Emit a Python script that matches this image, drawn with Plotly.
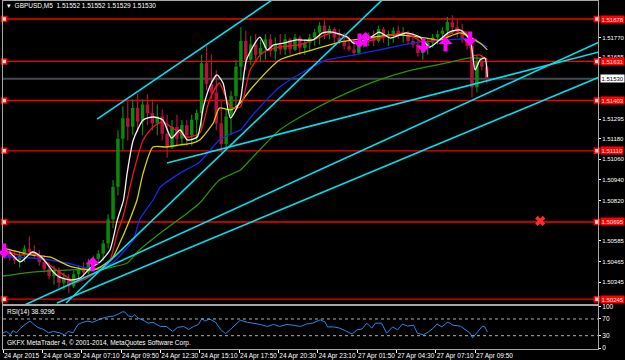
import plotly.graph_objects as go

# ---------------- data ----------------
bars_per_candle = 4
candle_open = [1.5053,1.5051,1.5049,1.5047,1.5050,1.5054,1.5052,1.5050,1.5046,1.5042,
               1.5038,1.5041,1.5034,1.5037,1.5032,1.5039,1.5042,1.5040,1.5046,1.5048,
               1.5051,1.5057,1.5071,1.5090,1.5118,1.5130,1.5125,1.5136,1.5128,1.5138,
               1.5133,1.5127,1.5131,1.5121,1.5113,1.5125,1.5118,1.5126,1.5120,1.5129,
               1.5133,1.5162,1.5150,1.5145,1.5127,1.5115,1.5131,1.5143,1.5160,1.5175,
               1.5164,1.5173,1.5167,1.5171,1.5176,1.5169,1.5173,1.5170,1.5176,1.5170,
               1.5177,1.5171,1.5174,1.5177,1.5180,1.5184,1.5179,1.5182,1.5177,1.5175,
               1.5172,1.5170,1.5168,1.5174,1.5176,1.5178,1.5175,1.5182,1.5177,1.5179,
               1.5181,1.5178,1.5180,1.5175,1.5173,1.5168,1.5171,1.5174,1.5177,1.5179,
               1.5181,1.5186,1.5183,1.5180,1.5176,1.5172,1.5148,1.5163,1.5160]
candle_high = [1.5056,1.5054,1.5053,1.5052,1.5056,1.5061,1.5056,1.5053,1.5050,1.5046,
               1.5044,1.5043,1.5040,1.5039,1.5041,1.5044,1.5046,1.5048,1.5050,1.5053,
               1.5059,1.5074,1.5094,1.5123,1.5137,1.5141,1.5141,1.5144,1.5141,1.5144,
               1.5141,1.5138,1.5135,1.5132,1.5129,1.5132,1.5129,1.5129,1.5132,1.5135,
               1.5167,1.5172,1.5167,1.5158,1.5141,1.5135,1.5146,1.5164,1.5183,1.5181,
               1.5178,1.5179,1.5176,1.5179,1.5179,1.5177,1.5179,1.5179,1.5177,1.5179,
               1.5178,1.5176,1.5179,1.5182,1.5186,1.5187,1.5184,1.5183,1.5182,1.5180,
               1.5178,1.5175,1.5177,1.5178,1.5180,1.5181,1.5184,1.5183,1.5181,1.5183,
               1.5184,1.5183,1.5181,1.5180,1.5178,1.5174,1.5176,1.5179,1.5181,1.5183,
               1.5189,1.5190,1.5188,1.5185,1.5181,1.5174,1.5167,1.5167,1.5164]
candle_low = [1.5048,1.5047,1.5045,1.5043,1.5046,1.5050,1.5048,1.5044,1.5040,1.5036,
              1.5033,1.5031,1.5030,1.5028,1.5031,1.5035,1.5037,1.5039,1.5042,1.5045,
              1.5047,1.5054,1.5066,1.5085,1.5111,1.5117,1.5120,1.5122,1.5120,1.5126,
              1.5123,1.5120,1.5117,1.5107,1.5112,1.5114,1.5115,1.5114,1.5114,1.5117,
              1.5123,1.5146,1.5141,1.5123,1.5110,1.5112,1.5120,1.5135,1.5152,1.5158,
              1.5161,1.5164,1.5163,1.5164,1.5166,1.5164,1.5167,1.5167,1.5167,1.5169,
              1.5167,1.5167,1.5169,1.5172,1.5173,1.5176,1.5176,1.5174,1.5173,1.5170,
              1.5169,1.5166,1.5167,1.5171,1.5172,1.5172,1.5174,1.5174,1.5172,1.5174,
              1.5176,1.5174,1.5173,1.5171,1.5166,1.5164,1.5167,1.5171,1.5173,1.5175,
              1.5177,1.5179,1.5177,1.5174,1.5170,1.5142,1.5145,1.5158,1.5150]
candle_close = [1.5051,1.5049,1.5047,1.5050,1.5054,1.5052,1.5050,1.5046,1.5042,1.5038,
                1.5041,1.5034,1.5037,1.5032,1.5039,1.5042,1.5040,1.5046,1.5048,1.5051,
                1.5057,1.5071,1.5090,1.5118,1.5130,1.5125,1.5136,1.5128,1.5138,1.5133,
                1.5127,1.5131,1.5121,1.5113,1.5125,1.5118,1.5126,1.5120,1.5129,1.5133,
                1.5162,1.5150,1.5145,1.5127,1.5115,1.5131,1.5143,1.5160,1.5175,1.5164,
                1.5173,1.5167,1.5171,1.5176,1.5169,1.5173,1.5170,1.5176,1.5170,1.5177,
                1.5171,1.5174,1.5177,1.5180,1.5184,1.5179,1.5182,1.5177,1.5175,1.5172,
                1.5170,1.5168,1.5174,1.5176,1.5178,1.5175,1.5182,1.5177,1.5179,1.5181,
                1.5178,1.5180,1.5175,1.5173,1.5168,1.5171,1.5174,1.5177,1.5179,1.5181,
                1.5186,1.5183,1.5180,1.5176,1.5172,1.5148,1.5163,1.5160,1.5153]

ma_white_x = [0,6,14,24,32,41,46,55,63,71,79,87,93,98,101,106,114,122,130,137,
              144,150,158,163,168,174,179,185,193,198,209,215,220,228,239,252,260,268,280,285,
              296,306,315,328,339,347,355,363,372,380,384,388,392,394]
ma_white_y = [1.50532,1.50514,1.50462,1.50520,1.50485,1.50403,1.50374,1.50357,1.50369,1.50427,
              1.50462,1.50532,1.50707,1.50823,1.50980,1.51173,1.51289,1.51307,1.51289,1.51184,
              1.51231,1.51173,1.51190,1.51365,1.51482,1.51552,1.51505,1.51301,1.51406,1.51639,
              1.51773,1.51698,1.51727,1.51738,1.51756,1.51756,1.51797,1.51802,1.51773,1.51738,
              1.51756,1.51802,1.51767,1.51797,1.51773,1.51715,1.51756,1.51802,1.51814,1.51756,
              1.51581,1.51639,1.51651,1.51540]
ma_red_x = [0,14,24,33,41,52,57,65,79,87,93,98,106,114,122,130,138,150,160,168,
            176,185,193,201,211,225,241,258,268,280,290,306,328,341,358,369,377,382,388,394]
ma_red_y = [1.50532,1.50502,1.50514,1.50473,1.50427,1.50374,1.50339,1.50357,1.50415,1.50473,
            1.50631,1.50736,1.50980,1.51173,1.51249,1.51278,1.51243,1.51190,1.51213,1.51406,
            1.51505,1.51365,1.51365,1.51581,1.51680,1.51715,1.51727,1.51773,1.51797,1.51767,
            1.51738,1.51767,1.51797,1.51744,1.51767,1.51814,1.51797,1.51668,1.51668,1.51639]
ma_yellow_x = [0,6,24,38,52,60,73,79,89,95,103,109,114,122,133,144,154,160,171,176,
               185,193,201,225,252,274,296,317,339,355,372,388,394]
ma_yellow_y = [1.50543,1.50532,1.50502,1.50491,1.50444,1.50427,1.50415,1.50432,1.50485,1.50572,
               1.50707,1.50823,1.50980,1.51132,1.51132,1.51144,1.51155,1.51173,1.51272,1.51359,
               1.51348,1.51389,1.51464,1.51639,1.51698,1.51744,1.51767,1.51785,1.51773,1.51756,
               1.51797,1.51738,1.51698]
ma_blue_x = [0,24,52,68,79,89,106,111,122,128,144,160,176,187,193,203,225,247,263,285,
             306,333,361,377,388,394]
ma_blue_y = [1.50491,1.50485,1.50456,1.50427,1.50427,1.50456,1.50590,1.50707,1.50823,1.50899,
             1.50980,1.51045,1.51173,1.51213,1.51231,1.51318,1.51482,1.51581,1.51639,1.51668,
             1.51698,1.51738,1.51756,1.51762,1.51738,1.51715]
ma_green_x = [0,24,52,79,89,101,111,128,150,160,176,193,201,225,252,280,306,333,361,380,394]
ma_green_y = [1.50380,1.50403,1.50415,1.50421,1.50432,1.50456,1.50532,1.50631,1.50748,1.50806,
              1.50940,1.50998,1.51056,1.51231,1.51348,1.51447,1.51523,1.51581,1.51622,1.51651,1.51645]

rsi_x = [0,3,6,8,11,14,18,22,24,28,33,37,41,46,50,53,57,61,65,69,73,79,85,90,94,97,99,102,105,107,
         110,114,118,122,128,133,138,142,147,151,155,159,162,164,168,173,177,181,185,189,193,199,
         203,209,215,220,225,231,236,242,247,252,258,262,264,269,274,280,284,288,292,296,300,303,
         308,312,317,321,325,329,334,337,342,346,350,353,357,362,366,372,376,380,382,386,390,392,394]
rsi_y = [37,40,32,42,37,47,57,65,60,50,45,37,40,37,32,40,37,57,62,65,62,70,75,77,82,87,87,77,75,80,
         72,67,60,62,52,52,40,50,52,45,52,57,72,65,70,62,45,35,45,57,67,62,
         60,57,52,57,52,57,55,52,58,60,68,63,51,51,48,39,34,44,46,60,48,60,
         60,36,51,44,58,53,55,36,32,39,48,58,51,63,55,53,44,36,25,39,53,51,39]

level_prices = [1.51878, 1.51631, 1.51403, 1.51110, 1.50695, 1.50245]
bid_price = 1.51530
price_ticks = [1.51770, 1.51655, 1.51295, 1.51180, 1.51060, 1.50940, 1.50820, 1.50585, 1.50465, 1.50345]
time_tick_bars = [0, 32, 64, 96, 128, 160, 192, 224, 256, 288, 320, 352, 384]
time_tick_text = ["24 Apr 2015", "24 Apr 04:30", "24 Apr 07:10", "24 Apr 09:50", "24 Apr 12:30",
                  "24 Apr 15:10", "24 Apr 17:50", "24 Apr 20:30", "24 Apr 23:10", "27 Apr 01:50",
                  "27 Apr 04:30", "27 Apr 07:10", "27 Apr 09:50"]

trend_x0 = [76.5, 51.3, 133.4, 13.8, 43.9]
trend_y0 = [1.51295, 1.50223, 1.51039, 1.50199, 1.50223]
trend_x1 = [218.9, 308.4, 485.0, 485.0, 485.0]
trend_y1 = [1.51989, 1.51989, 1.51686, 1.51744, 1.51540]

arrow_up_x = [73, 295, 360]
arrow_up_y = [1.50444, 1.51756, 1.51727]
arrow_down_x = [1, 290, 342, 380]
arrow_down_y = [1.50532, 1.51756, 1.51727, 1.51767]
cross_x = [437]
cross_y = [1.50701]

x_range = [0, 484]
price_range = [1.50217, 1.51983]
rsi_range = [-1.9, 101.1]

# ---------------- figure ----------------
FONT = "Liberation Sans"
fig = go.Figure()

# candles
cx = [bars_per_candle * i + (bars_per_candle - 1) / 2 for i in range(len(candle_open))]
for bull, col in ((True, "#0a8a0a"), (False, "#b0143c")):
    wx, wy, bx, by = [], [], [], []
    for x, o, h, l, c in zip(cx, candle_open, candle_high, candle_low, candle_close):
        if (c >= o) == bull:
            wx += [x, x, None]; wy += [l, h, None]
            bx += [x, x, None]; by += [o, c, None]
    fig.add_trace(go.Scatter(x=wx, y=wy, mode="lines", line=dict(color=col, width=1.2),
                             xaxis="x2", yaxis="y", hoverinfo="skip"))
    fig.add_trace(go.Scatter(x=bx, y=by, mode="lines", line=dict(color=col, width=3.5),
                             xaxis="x2", yaxis="y", hoverinfo="skip"))

# moving averages
for xs, ys, col in ((ma_green_x, ma_green_y, "#2a9400"),
                    (ma_blue_x, ma_blue_y, "#1428f0"),
                    (ma_yellow_x, ma_yellow_y, "#d2d200"),
                    (ma_red_x, ma_red_y, "#f01818"),
                    (ma_white_x, ma_white_y, "#f2f2f2")):
    fig.add_trace(go.Scatter(x=xs, y=ys, mode="lines", line=dict(color=col, width=1.3, shape="spline", smoothing=0.6),
                             xaxis="x2", yaxis="y", hoverinfo="skip"))

# trend lines
for x0, y0, x1, y1 in zip(trend_x0, trend_y0, trend_x1, trend_y1):
    fig.add_trace(go.Scatter(x=[x0, x1], y=[y0, y1], mode="lines",
                             line=dict(color="#00e1f0", width=1.6), xaxis="x2", yaxis="y", hoverinfo="skip"))

# level end markers
lvl_mx, lvl_my = [], []
for p in level_prices:
    lvl_mx += [x_range[0] + 1, x_range[1] - 1]
    lvl_my += [p, p]
fig.add_trace(go.Scatter(x=lvl_mx, y=lvl_my, mode="markers",
                         marker=dict(symbol="square", size=5, color="#ffd0d0", line=dict(color="#ff0000", width=1.5)),
                         xaxis="x2", yaxis="y", hoverinfo="skip", cliponaxis=False))

# cross
fig.add_trace(go.Scatter(x=cross_x, y=cross_y, mode="markers",
                         marker=dict(symbol="x", size=9, color="#ff2a2a", line=dict(width=0)),
                         xaxis="x2", yaxis="y", hoverinfo="skip"))

# RSI
fig.add_trace(go.Scatter(x=rsi_x, y=rsi_y, mode="lines", line=dict(color="#1e8cf0", width=1),
                         xaxis="x", yaxis="y2", hoverinfo="skip"))

shapes = []
for p in level_prices:
    shapes.append(dict(type="line", xref="paper", x0=0, x1=1, yref="y", y0=p, y1=p,
                       line=dict(color="#ff0000", width=1.3), layer="below"))
shapes.append(dict(type="line", xref="paper", x0=0, x1=1, yref="y", y0=bid_price, y1=bid_price,
                   line=dict(color="#464a50", width=2), layer="below"))
for lv in (30, 70):
    shapes.append(dict(type="line", xref="paper", x0=0, x1=1, yref="y2", y0=lv, y1=lv,
                       line=dict(color="#b0b0b0", width=1, dash="dot")))

annotations = []
# magenta signal arrows (block arrows)
for xv, yv in zip(arrow_up_x, arrow_up_y):
    annotations.append(dict(xref="x2", yref="y", x=xv, y=yv, text="", showarrow=True, ax=0, ay=16,
                            axref="pixel", ayref="pixel", yshift=8, arrowhead=1, arrowsize=0.6,
                            arrowwidth=4, arrowcolor="#ff00ff", standoff=0, startstandoff=0))
for xv, yv in zip(arrow_down_x, arrow_down_y):
    annotations.append(dict(xref="x2", yref="y", x=xv, y=yv, text="", showarrow=True, ax=0, ay=-16,
                            axref="pixel", ayref="pixel", yshift=-8, arrowhead=1, arrowsize=0.6,
                            arrowwidth=4, arrowcolor="#ff00ff", standoff=0, startstandoff=0))
for p in level_prices:
    annotations.append(dict(xref="paper", x=1.003, yref="y", y=p, text=f"{p:.5f}", showarrow=False,
                            xanchor="left", yanchor="middle", bgcolor="#ff0000",
                            font=dict(color="#ffe0e0", size=6, family=FONT), borderpad=0.5))
annotations.append(dict(xref="paper", x=1.003, yref="y", y=bid_price, text=f"{bid_price:.5f}", showarrow=False,
                        xanchor="left", yanchor="middle", bgcolor="#ffffff",
                        font=dict(color="#000000", size=6, family=FONT), borderpad=0.5))
annotations.append(dict(xref="paper", x=0.004, yref="paper", y=0.984, showarrow=False, xanchor="left",
                        yanchor="middle", text="▾  GBPUSD,M5  1.51552 1.51552 1.51529 1.51530",
                        font=dict(color="#ffffff", size=6.5, family=FONT)))
annotations.append(dict(xref="paper", x=0.004, yref="paper", y=0.106, showarrow=False, xanchor="left",
                        yanchor="middle", text="RSI(14) 38.9296",
                        font=dict(color="#ffffff", size=6.5, family=FONT)))
annotations.append(dict(xref="paper", x=0.004, yref="paper", y=0.018, showarrow=False, xanchor="left",
                        yanchor="middle", text="GKFX MetaTrader 4, © 2001-2014, MetaQuotes Software Corp.",
                        font=dict(color="#ffffff", size=6.5, family=FONT)))

axis_line = "#a8a8a8"
fig.update_layout(
    width=625, height=360, margin=dict(l=3, r=27, t=0, b=11, autoexpand=False),
    paper_bgcolor="#000000", plot_bgcolor="#000000", showlegend=False,
    shapes=shapes, annotations=annotations,
    xaxis=dict(domain=[0, 1], anchor="y2", range=x_range, tickvals=time_tick_bars, ticktext=time_tick_text,
               ticks="outside", ticklen=3, tickcolor="#ffffff", ticklabelposition="outside right",
               tickangle=0, automargin=False,
               tickfont=dict(color="#ffffff", size=6.5, family=FONT),
               showline=True, linecolor=axis_line, mirror=True, showgrid=False, zeroline=False),
    xaxis2=dict(domain=[0, 1], anchor="y", matches="x", range=x_range, showticklabels=False, ticks="",
                automargin=False,
                showline=True, linecolor=axis_line, mirror=True, showgrid=False, zeroline=False),
    yaxis=dict(domain=[0.12894, 0.99713], anchor="x2", range=price_range, side="right",
               tickvals=price_ticks, ticktext=[f"{v:.5f}" for v in price_ticks],
               ticks="outside", ticklen=2, tickcolor="#ffffff", automargin=False,
               tickfont=dict(color="#ffffff", size=6, family=FONT),
               showline=True, linecolor=axis_line, mirror=True, showgrid=False, zeroline=False),
    yaxis2=dict(domain=[0, 0.12321], anchor="x", range=rsi_range, side="right",
                tickvals=[0, 30, 70, 100], ticktext=["0", "30", "70", "100"],
                ticks="outside", ticklen=2, tickcolor="#ffffff", automargin=False,
                tickfont=dict(color="#ffffff", size=6.5, family=FONT),
                showline=True, linecolor=axis_line, mirror=True, showgrid=False, zeroline=False),
)

fig.write_html("out.html")
